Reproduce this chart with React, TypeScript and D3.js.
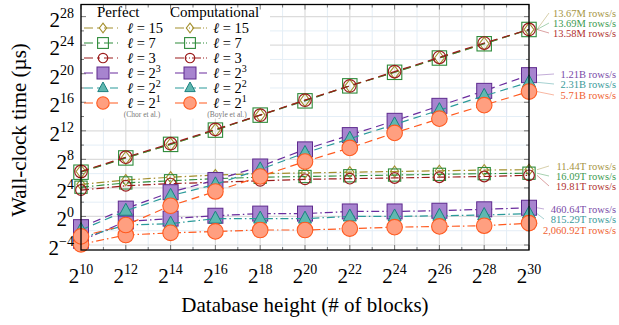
import React from "react";
import * as d3 from "d3";

// x: database height exponents (2^k blocks)
const xExp = [10, 12, 14, 16, 18, 20, 22, 24, 26, 28, 30];

// wall-clock time, as log2(µs)
const perfL15 = [6.3, 8.2, 10.1, 12.1, 14.2, 16.3, 18.3, 20.2, 22.2, 24.2, 26.2];
const perfL7 = [6.2, 8.2, 10.1, 12.1, 14.2, 16.2, 18.3, 20.2, 22.2, 24.2, 26.2];
const perfL3 = [6.3, 8.3, 10.2, 12.2, 14.2, 16.3, 18.3, 20.3, 22.3, 24.3, 26.2];
const perfL8 = [-1.5, 1.1, 3.4, 5.1, 7.0, 9.4, 11.4, 13.4, 15.5, 17.6, 19.8];
const perfL4 = [-1.9, 0.8, 2.9, 4.5, 6.6, 8.9, 10.9, 12.9, 14.9, 16.9, 18.8];
const perfL2 = [-2.8, -1.2, 1.5, 3.5, 5.6, 7.7, 9.6, 11.7, 13.7, 15.6, 17.5];

const compL15 = [4.5, 5.1, 5.5, 5.8, 6.0, 6.1, 6.2, 6.3, 6.4, 6.5, 6.55];
const compL7 = [4.1, 4.7, 5.0, 5.3, 5.5, 5.6, 5.7, 5.8, 5.9, 6.0, 6.06];
const compL3 = [3.7, 4.3, 4.6, 4.8, 5.0, 5.2, 5.3, 5.4, 5.5, 5.6, 5.76];
const compL8 = [-3.4, -0.7, -0.3, 0.1, 0.4, 0.4, 0.7, 0.7, 0.8, 1.0, 1.22];
const compL4 = [-3.0, -1.2, -1.0, -0.3, -0.3, -0.3, 0.0, 0.0, 0.1, 0.2, 0.4];
const compL2 = [-3.9, -2.6, -2.3, -2.1, -1.9, -1.9, -1.7, -1.5, -1.4, -1.3, -0.94];

const xTicks = [10, 12, 14, 16, 18, 20, 22, 24, 26, 28, 30];
const yTicks = [-4, 0, 4, 8, 12, 16, 20, 24, 28];

// throughput labels at 2^30
const rateLabels = [
  "13.67M rows/s", "13.69M rows/s", "13.58M rows/s",
  "1.21B rows/s", "2.31B rows/s", "5.71B rows/s",
  "11.44T rows/s", "16.09T rows/s", "19.81T rows/s",
  "460.64T rows/s", "815.29T rows/s", "2,060.92T rows/s",
];
const rateLabelY = [13, 23, 33, 74, 84, 95, 166, 176, 186, 209, 219, 230];

const W = 619;
const H = 325;
const FONT = "'Liberation Serif', 'DejaVu Serif', serif";

const OLIVE = "#a38f2d";
const GREEN = "#2e8b3a";
const RED = "#9b1c1c";
const PURPLE = "#6a2c9e";
const TEAL = "#2a9a9a";
const ORANGE = "#ff5a1f";

type Shape = "diamond" | "square" | "circle" | "fsquare" | "triangle" | "fcircle";

const styles: Record<string, { color: string; shape: Shape; label: string; sup?: string; text: string }> = {
  l15: { color: OLIVE, shape: "diamond", label: "15", text: "#a69545" },
  l7: { color: GREEN, shape: "square", label: "7", text: "#3c9a50" },
  l3: { color: RED, shape: "circle", label: "3", text: "#b03030" },
  l8: { color: PURPLE, shape: "fsquare", label: "2", sup: "3", text: "#7a4aa8" },
  l4: { color: TEAL, shape: "triangle", label: "2", sup: "2", text: "#3a9a9a" },
  l2: { color: ORANGE, shape: "fcircle", label: "2", sup: "1", text: "#f06030" },
};

const PERF_DASH = "8 5";
const COMP_DASH = "8 3 1.5 3";

function Marker({ shape, x, y, color, s = 1 }: { shape: Shape; x: number; y: number; color: string; s?: number }) {
  if (shape === "diamond") {
    const r = 6.5 * s;
    return <path d={`M${x},${y - r}L${x + r * 0.75},${y}L${x},${y + r}L${x - r * 0.75},${y}Z`} fill="none" stroke={color} strokeWidth={1.1} />;
  }
  if (shape === "square") {
    const h = 7.2 * s;
    return <rect x={x - h} y={y - h} width={2 * h} height={2 * h} fill="none" stroke={color} strokeWidth={1.1} />;
  }
  if (shape === "circle") {
    return <circle cx={x} cy={y} r={6.3 * s} fill="none" stroke={color} strokeWidth={1.2} />;
  }
  if (shape === "fsquare") {
    const h = 7.5 * s;
    return <rect x={x - h} y={y - h} width={2 * h} height={2 * h} fill="#a784cf" stroke="#5e2a8e" strokeWidth={1} />;
  }
  if (shape === "triangle") {
    const r = 7.5 * s;
    return <path d={`M${x},${y - r}L${x + r * 0.87},${y + r * 0.6}L${x - r * 0.87},${y + r * 0.6}Z`} fill="#5fb8b0" stroke="#1d8080" strokeWidth={1} />;
  }
  return <circle cx={x} cy={y} r={7.8 * s} fill="#ff9f80" stroke={ORANGE} strokeWidth={1.1} />;
}

export default function App() {
  const left = 81, right = 529, top = 4.5, bottom = 250;
  const x = d3.scaleLinear().domain([10, 30]).range([left, right]);
  const y = d3.scaleLinear().domain([-4.7, 29.7]).range([bottom, top]);

  const line = d3
    .line<number>()
    .x((_, i) => x(xExp[i]))
    .y((d) => y(d));

  const series = [
    { key: "l15", vals: compL15, dash: COMP_DASH, s: 0.85 },
    { key: "l7", vals: compL7, dash: COMP_DASH, s: 0.85 },
    { key: "l3", vals: compL3, dash: COMP_DASH, s: 0.85 },
    { key: "l15", vals: perfL15, dash: PERF_DASH, s: 1 },
    { key: "l7", vals: perfL7, dash: PERF_DASH, s: 1 },
    { key: "l3", vals: perfL3, dash: PERF_DASH, s: 1 },
    { key: "l8", vals: compL8, dash: COMP_DASH, s: 1 },
    { key: "l4", vals: compL4, dash: COMP_DASH, s: 1 },
    { key: "l2", vals: compL2, dash: COMP_DASH, s: 1 },
    { key: "l8", vals: perfL8, dash: PERF_DASH, s: 1 },
    { key: "l4", vals: perfL4, dash: PERF_DASH, s: 1 },
    { key: "l2", vals: perfL2, dash: PERF_DASH, s: 1 },
  ];

  // end points for the rate labels, in label order
  const labelSeries = [perfL15, perfL7, perfL3, perfL8, perfL4, perfL2, compL15, compL7, compL3, compL8, compL4, compL2];
  const labelKeys = ["l15", "l7", "l3", "l8", "l4", "l2", "l15", "l7", "l3", "l8", "l4", "l2"];

  const xMinor = d3.range(11, 30, 2);
  const yMinor = d3.range(-2, 29, 4);

  const legendRows = ["l15", "l7", "l3", "l8", "l4", "l2"];

  return (
    <svg width={W} height={H} style={{ position: "absolute", left: 0, top: 0, background: "#fff" }} fontFamily={FONT}>
      {/* grid */}
      {xMinor.map((e) => (
        <line key={"xm" + e} x1={x(e)} x2={x(e)} y1={top} y2={bottom} stroke="#e4eef6" strokeWidth={1} />
      ))}
      {yMinor.map((e) => (
        <line key={"ym" + e} x1={left} x2={right} y1={y(e)} y2={y(e)} stroke="#e4eef6" strokeWidth={1} />
      ))}
      {xTicks.map((e) => (
        <line key={"xg" + e} x1={x(e)} x2={x(e)} y1={top} y2={bottom} stroke="#dcdcdc" strokeWidth={1.2} />
      ))}
      {yTicks.map((e) => (
        <line key={"yg" + e} x1={left} x2={right} y1={y(e)} y2={y(e)} stroke="#dcdcdc" strokeWidth={1.2} />
      ))}

      {/* legend background */}
      <rect x={left + 1} y={top + 1} width={188} height={113} fill="#fff" />

      {/* ticks */}
      {xTicks.map((e) => (
        <g key={"xt" + e} stroke="#777" strokeWidth={1}>
          <line x1={x(e)} x2={x(e)} y1={bottom} y2={bottom - 5} />
          <line x1={x(e)} x2={x(e)} y1={top} y2={top + 5} />
        </g>
      ))}
      {xMinor.map((e) => (
        <g key={"xmt" + e} stroke="#777" strokeWidth={1}>
          <line x1={x(e)} x2={x(e)} y1={bottom} y2={bottom - 3} />
          <line x1={x(e)} x2={x(e)} y1={top} y2={top + 3} />
        </g>
      ))}
      {yTicks.map((e) => (
        <g key={"yt" + e} stroke="#777" strokeWidth={1}>
          <line x1={left} x2={left + 5} y1={y(e)} y2={y(e)} />
          <line x1={right} x2={right - 5} y1={y(e)} y2={y(e)} />
        </g>
      ))}
      {yMinor.map((e) => (
        <g key={"ymt" + e} stroke="#777" strokeWidth={1}>
          <line x1={left} x2={left + 3} y1={y(e)} y2={y(e)} />
          <line x1={right} x2={right - 3} y1={y(e)} y2={y(e)} />
        </g>
      ))}

      {/* series */}
      {series.map((sr, i) => {
        const st = styles[sr.key];
        return (
          <g key={"s" + i}>
            <path d={line(sr.vals) ?? ""} fill="none" stroke={st.color} strokeWidth={1.2} strokeDasharray={sr.dash} />
            {sr.vals.map((v, j) => (
              <Marker key={j} shape={st.shape} x={x(xExp[j])} y={y(v)} color={st.color} s={sr.s} />
            ))}
          </g>
        );
      })}

      {/* frame */}
      <rect x={left} y={top} width={right - left} height={bottom - top} fill="none" stroke="#000" strokeWidth={1.3} />

      {/* tick labels */}
      {xTicks.map((e) => (
        <text key={"xl" + e} x={x(e)} y={283} textAnchor="middle" fontSize={21} fill="#000">
          2<tspan dy={-9} fontSize={14}>{e}</tspan>
        </text>
      ))}
      {yTicks.map((e) => (
        <text key={"yl" + e} x={74} y={y(e) + 10} textAnchor="end" fontSize={21} fill="#000">
          2<tspan dy={-9} fontSize={14}>{e < 0 ? "\u2212" + Math.abs(e) : e}</tspan>
        </text>
      ))}

      {/* axis titles */}
      <text x={305} y={312} textAnchor="middle" fontSize={21}>Database height (# of blocks)</text>
      <text transform="translate(26,130) rotate(-90)" textAnchor="middle" fontSize={21}>Wall-clock time (µs)</text>

      {/* legend */}
      <text x={97} y={17} fontSize={15}>Perfect</text>
      <text x={170} y={17} fontSize={15}>Computational</text>
      {legendRows.map((k, i) => {
        const st = styles[k];
        const ly = 28 + i * 15;
        const small = i < 3;
        return (
          <g key={"lg" + k}>
            <line x1={84} x2={118} y1={ly} y2={ly} stroke={st.color} strokeWidth={1.2} strokeDasharray={small ? "9 4 3 4" : "9 4"} />
            <Marker shape={st.shape} x={103} y={ly} color={st.color} s={small ? 0.75 : 0.8} />
            <line x1={175} x2={207} y1={ly} y2={ly} stroke={st.color} strokeWidth={1.2} strokeDasharray={small ? "9 2 1 2 1 2" : "9 3"} />
            <Marker shape={st.shape} x={190} y={ly} color={st.color} s={small ? 0.75 : 0.8} />
            {[127, 213].map((tx) => (
              <text key={tx} x={tx} y={ly + 4.5} fontSize={14.5}>
                <tspan fontStyle="italic">ℓ</tspan> = {st.label}
                {st.sup ? <tspan dy={-6} fontSize={10}>{st.sup}</tspan> : null}
              </text>
            ))}
          </g>
        );
      })}
      <text x={142} y={117} textAnchor="middle" fontSize={7.5} fill="#777">(Chor et al.)</text>
      <text x={227} y={117} textAnchor="middle" fontSize={7.5} fill="#777">(Boyle et al.)</text>

      {/* rate labels */}
      {rateLabels.map((lab, i) => {
        const st = styles[labelKeys[i]];
        const vals = labelSeries[i];
        const ex = x(30), ey = y(vals[vals.length - 1]);
        const tx = 616 - lab.length * 5 - 2;
        return (
          <g key={"rl" + i}>
            <line x1={ex + 8} y1={ey} x2={tx} y2={rateLabelY[i]} stroke={st.text} strokeOpacity={0.45} strokeWidth={1} />
            <text x={616} y={rateLabelY[i] + 3.5} textAnchor="end" fontSize={10.5} fill={st.text}>{lab}</text>
          </g>
        );
      })}
    </svg>
  );
}
